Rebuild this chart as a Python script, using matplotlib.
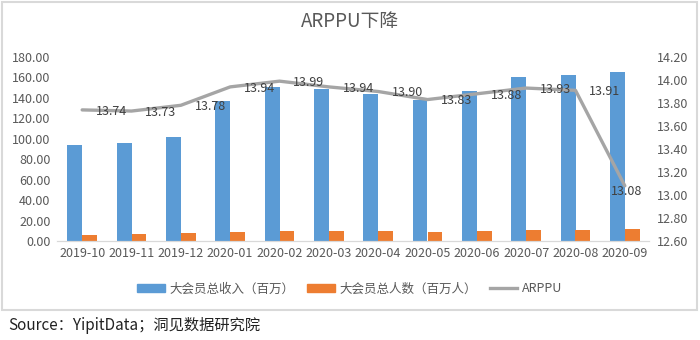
import matplotlib
matplotlib.use("Agg")
import matplotlib.pyplot as plt
import matplotlib.patches as mpatches
from matplotlib.lines import Line2D
import numpy as np

# ── Data ───────────────────────────────────────────────────────────────────────
months  = ["2019-10", "2019-11", "2019-12", "2020-01", "2020-02", "2020-03",
           "2020-04", "2020-05", "2020-06", "2020-07", "2020-08", "2020-09"]
revenue = [94.4, 95.7, 101.9, 136.7, 150.4, 149.0,
           143.5, 137.7, 146.5, 160.2, 162.4, 165.0]
members = [6.3, 6.5, 7.5, 8.9, 10.1, 10.1,
           10.0, 9.2, 10.0, 11.0, 11.0, 12.2]
arppu   = [13.74, 13.73, 13.78, 13.94, 13.99, 13.94,
           13.90, 13.83, 13.88, 13.93, 13.91, 13.08]

BLUE, ORANGE, GRAY = "#5b9bd5", "#ed7d31", "#a5a5a5"
TXT = "#595959"

plt.rcParams["font.family"] = ["Noto Sans CJK SC", "DejaVu Sans"]

fig = plt.figure(figsize=(7, 3.4), dpi=100)
ax = fig.add_axes([57.5/700, 1-241/340, 592/700, 184/340])
ax2 = ax.twinx()

x = np.arange(len(months))
w = 0.3
ax.bar(x - w/2, revenue, w, color=BLUE, zorder=2)
ax.bar(x + w/2, members, w, color=ORANGE, zorder=2)
ax.set_xlim(-0.5, len(months) - 0.5)
ax.set_ylim(0, 180)
ax.set_yticks(np.arange(0, 181, 20))
ax.set_yticklabels([f"{v:.2f}" for v in np.arange(0, 181, 20)])
ax.set_xticks(x)
ax.set_xticklabels(months)

ax2.plot(x, arppu, color=GRAY, lw=2.4, solid_capstyle="round", zorder=3)
ax2.set_ylim(12.6, 14.2)
rt = np.arange(12.6, 14.21, 0.2)
ax2.set_yticks(rt)
ax2.set_yticklabels([f"{v:.2f}" for v in rt])
for i, v in enumerate(arppu):
    if i == len(arppu) - 1:
        ax2.annotate(f"{v:.2f}", (x[i], v), xytext=(1, -4), textcoords="offset points",
                     ha="center", va="center", fontsize=9, color="#404040")
    else:
        ax2.annotate(f"{v:.2f}", (x[i], v), xytext=(10, -1), textcoords="offset points",
                     ha="left", va="center", fontsize=9, color="#404040")

for a in (ax, ax2):
    for s in ("top", "left", "right"):
        a.spines[s].set_visible(False)
    a.spines["bottom"].set_color("#d9d9d9")
    a.tick_params(length=0, labelsize=9, colors=TXT, pad=4)
ax.tick_params(axis="y", pad=5)
ax2.tick_params(axis="y", pad=5)

fig.text(0.5, 1-22/340, "ARPPU下降", ha="center", va="center", fontsize=13.5, color=TXT)

handles = [mpatches.Patch(color=BLUE, label="大会员总收入（百万）"),
           mpatches.Patch(color=ORANGE, label="大会员总人数（百万人）"),
           Line2D([0], [0], color=GRAY, lw=2.4, label="ARPPU")]
fig.legend(handles=handles, loc="center", bbox_to_anchor=(0.5, 1-289/340), ncol=3,
           frameon=False, fontsize=9, labelcolor=TXT, handlelength=2.2,
           handleheight=0.6, columnspacing=1.0, handletextpad=0.4)

fig.patches.append(mpatches.Rectangle((2/700, 30/340), 695/700, 308/340,
                                      transform=fig.transFigure, fill=False,
                                      edgecolor="#d9d9d9", lw=1.5))
fig.text(8/700, 1-325/340, "Source：YipitData；洞见数据研究院", ha="left", va="center",
         fontsize=11, color="#222222")

fig.savefig("out.png", dpi=100)
